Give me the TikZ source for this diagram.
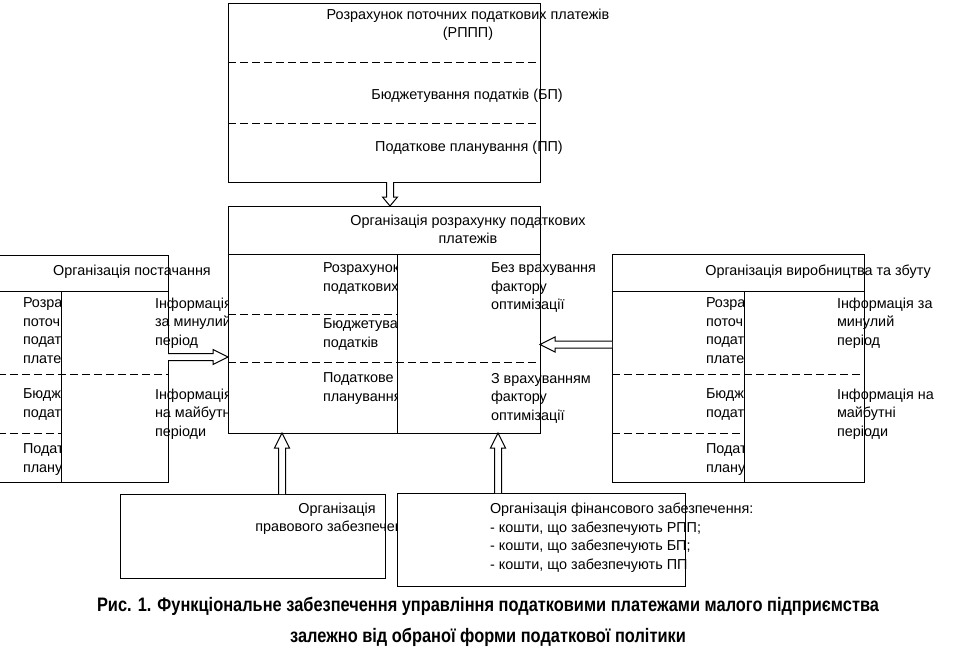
\documentclass[tikz,border=0pt]{standalone}
\usepackage{fontspec}
\usetikzlibrary{calc}
\newfontfamily\dfont{Liberation Sans}
\newfontfamily\capfont[FakeStretch=0.84]{Liberation Sans}
\tikzset{
  box/.style={draw, fill=white, line width=1pt, inner sep=0pt, outer sep=0pt, anchor=north west},
  txt/.style={inner sep=0pt, outer sep=0pt, anchor=north west, align=left,
    font=\dfont\fontsize{14.4}{18.5}\selectfont, execute at begin node=\strut},
  ctxt/.style={txt, anchor=north, align=center},
  dash line/.style={line width=1pt, dash pattern=on 8pt off 4pt},
  solid line/.style={line width=1pt},
  hollow/.style={line width=1pt, fill=white, to path={
    let \p1=(\tikztostart), \p2=(\tikztotarget), \p3=($(\p2)!#1!(\p1)$) in
    ($(\p1)!3.5pt!90:(\p2)$) -- ($(\p3)!3.5pt!90:(\p2)$) -- ($(\p3)!7.5pt!90:(\p2)$) -- (\p2)
    -- ($(\p3)!7.5pt!-90:(\p2)$) -- ($(\p3)!3.5pt!-90:(\p2)$) -- ($(\p1)!3.5pt!-90:(\p2)$)}},
  hollow/.default=15pt
}
\begin{document}
\begin{tikzpicture}[x=1pt,y=-1pt]
\useasboundingbox (0,0) rectangle (960,665);

% top box
\node[box, minimum width=312pt, minimum height=179pt] (top) at (228,3) {};
\draw[dash line] (top.west |- 0,62) -- (top.east |- 0,62);
\draw[dash line] (top.west |- 0,123) -- (top.east |- 0,123);
\node[ctxt] (t1) at (468,9) {Розрахунок поточних податкових платежів\\(РППП)};
\node[ctxt] (t2) at (467,87) {Бюджетування податків (БП)};
\node[ctxt] (t3) at (469,139) {Податкове планування (ПП)};

% left box
\node[box, minimum width=170pt, minimum height=227pt] (lbox) at (-2,255) {};
\node[ctxt] (l0) at (132,263) {Організація постачання};
\node[txt] (l1) at (23,298) {Розрахунок\\поточних\\податкових\\платежів};
\node[txt] (l2) at (23,389) {Бюджетування\\податків};
\node[txt] (l3) at (23,444) {Податкове\\планування};
\node[box, minimum width=107pt, minimum height=191pt] (lcol) at (61,291) {};
\draw[solid line] (lbox.west |- lcol.north) -- (lcol.north west);
\draw[dash line] (lbox.west |- 0,374) -- (lbox.east |- 0,374);
\draw[dash line] (lbox.west |- 0,433) -- (lcol.west |- 0,433);
\node[txt] (l4) at (155,298) {Інформація\\за минулий\\період};
\node[txt] (l5) at (155,389) {Інформація\\на майбутні\\періоди};

% right box
\node[box, minimum width=252pt, minimum height=228pt] (rbox) at (612,254) {};
\node[ctxt] (r0) at (818,263) {Організація виробництва та збуту};
\node[txt] (r1) at (706,298) {Розрахунок\\поточних\\податкових\\платежів};
\node[txt] (r2) at (706,389) {Бюджетування\\податків};
\node[txt] (r3) at (706,444) {Податкове\\планування};
\node[box, minimum width=120pt, minimum height=191pt] (rcol) at (744,291) {};
\draw[solid line] (rbox.west |- rcol.north) -- (rcol.north west);
\draw[dash line] (rbox.west |- 0,374) -- (rbox.east |- 0,374);
\draw[dash line] (rbox.west |- 0,433) -- (rcol.west |- 0,433);
\node[txt] (r4) at (837,298) {Інформація за\\минулий\\період};
\node[txt] (r5) at (837,389) {Інформація на\\майбутні\\періоди};

% central box
\node[box, minimum width=312pt, minimum height=227pt] (cbox) at (228,206) {};
\node[ctxt] (c0) at (468,215) {Організація розрахунку податкових\\платежів};
\node[txt] (c1) at (323,263) {Розрахунок поточних\\податкових платежів};
\node[txt] (c2) at (323,319) {Бюджетування\\податків};
\node[txt] (c3) at (323,373) {Податкове\\планування};
\node[box, minimum width=143pt, minimum height=179pt] (ccol) at (397,254) {};
\draw[solid line] (cbox.west |- ccol.north) -- (ccol.north west);
\draw[dash line] (cbox.west |- 0,314) -- (ccol.west |- 0,314);
\draw[dash line] (cbox.west |- 0,362) -- (cbox.east |- 0,362);
\node[txt] (c4) at (491,263) {Без врахування\\фактору\\оптимізації};
\node[txt] (c5) at (491,373) {З врахуванням\\фактору\\оптимізації};

% bottom boxes
\node[box, minimum width=265pt, minimum height=84pt] (legal) at (120,494) {};
\node[ctxt] (b1) at (337,503) {Організація\\правового забезпечення};
\node[box, minimum width=288pt, minimum height=93pt] (fin) at (397,493) {};
\node[txt] (b2) at (490,503) {Організація фінансового забезпечення:\\- кошти, що забезпечують РПП;\\- кошти, що забезпечують БП;\\- кошти, що забезпечують ПП};

% arrows
\draw[hollow=9pt] (top.south -| 390,0) to (cbox.north -| 390,0);
\draw[hollow] (lbox.east |- 0,357) to (cbox.west |- 0,357);
\draw[hollow] (rbox.west |- 0,344.5) to (cbox.east |- 0,344.5);
\draw[hollow] (legal.north -| 282,0) to (cbox.south -| 282,0);
\draw[hollow] (fin.north -| 498,0) to (cbox.south -| 498,0);

% caption
\node[font=\capfont\bfseries\fontsize{19.5}{31}\selectfont, align=center, anchor=north, inner sep=0pt,
  execute at begin node=\strut] (cap) at (488,597)
  {Рис. 1. Функціональне забезпечення управління податковими платежами малого підприємства\\залежно від обраної форми податкової політики};
\end{tikzpicture}
\end{document}
